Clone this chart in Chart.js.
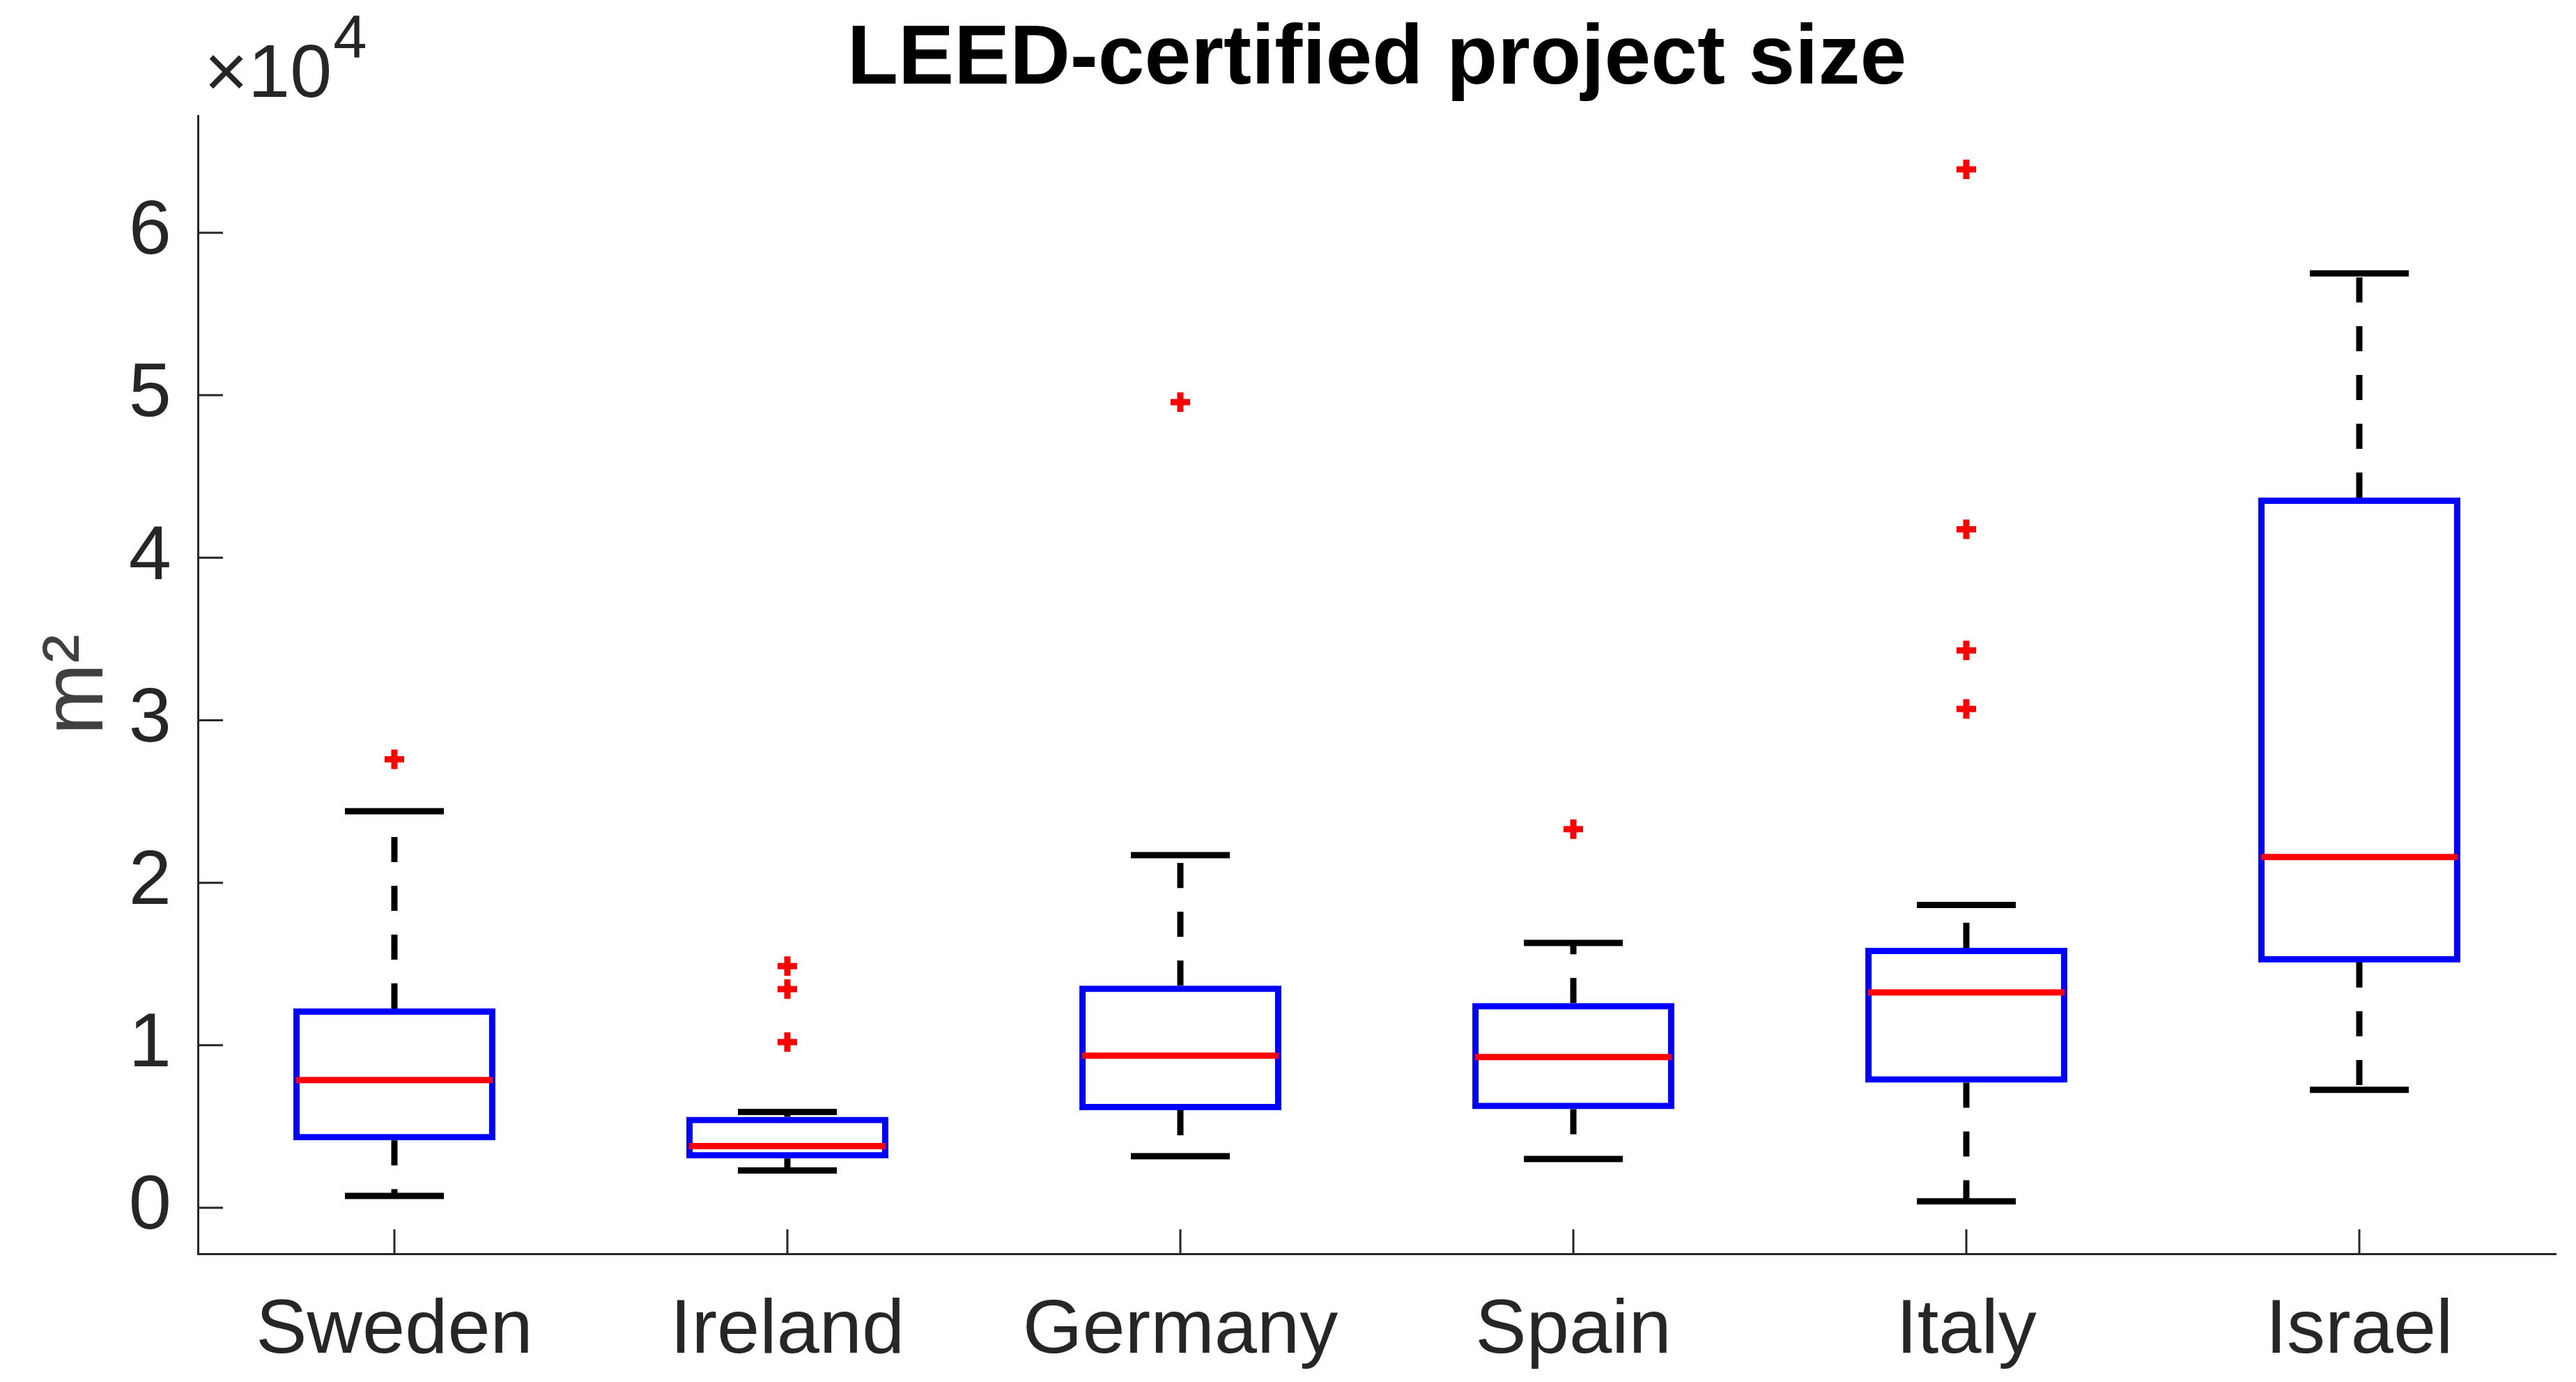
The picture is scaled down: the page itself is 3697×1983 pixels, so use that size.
<!DOCTYPE html>
<html>
<head>
<meta charset="utf-8">
<title>LEED-certified project size</title>
<script src="https://cdn.jsdelivr.net/npm/chart.js@4"></script>
<style>
    html, body { margin: 0; padding: 0; background: #ffffff; overflow: hidden; }
    #wrap { width: 3697px; height: 1983px; position: relative; }
    canvas { display: block; }
</style>
</head>
<body>
<div id="wrap"><canvas id="boxChart"></canvas></div>
<script>
// Box plot data (m2)
const countries = ['Sweden', 'Ireland', 'Germany', 'Spain', 'Italy', 'Israel'];
const lowerWhisker = [730, 2300, 3170, 3000, 400, 7260];
const quartile1 = [4150, 3030, 6000, 6070, 7700, 15100];
const medians = [7860, 3800, 9360, 9270, 13250, 21580];
const quartile3 = [12260, 5600, 13670, 12600, 16000, 43700];
const upperWhisker = [24400, 5900, 21700, 16300, 18630, 57500];
const outliers = [
    [27600],
    [14870, 13460, 10200],
    [49570],
    [23300],
    [63900, 41750, 34300, 30700],
    []
];
const yTicks = [0, 10000, 20000, 30000, 40000, 50000, 60000];

const FONT = "'Liberation Sans', Arial, Helvetica, sans-serif";
const AXIS_COLOR = '#262626';
const LINE_W = 9;

// whisker segments: box edge -> cap, broken by nulls
const whiskerData = [];
countries.forEach((c, i) => {
    whiskerData.push({ x: c, y: quartile3[i] }, { x: c, y: upperWhisker[i] }, { x: c, y: null });
    whiskerData.push({ x: c, y: quartile1[i] }, { x: c, y: lowerWhisker[i] }, { x: c, y: null });
});

const capData = [];
countries.forEach((c, i) => {
    capData.push({ x: c, y: upperWhisker[i] }, { x: c, y: lowerWhisker[i] });
});

const outlierData = [];
countries.forEach((c, i) => {
    outliers[i].forEach(v => outlierData.push({ x: c, y: v }));
});

// inward ticks + the x10^4 exponent label, like the matlab axes
const matlabAxes = {
    id: 'matlabAxes',
    afterDraw(chart) {
        const ctx = chart.ctx;
        const xs = chart.scales.x;
        const ys = chart.scales.y;
        const area = chart.chartArea;
        ctx.save();
        ctx.strokeStyle = AXIS_COLOR;
        ctx.lineWidth = 3;
        ctx.beginPath();
        ys.ticks.forEach(t => {
            const py = ys.getPixelForValue(t.value);
            ctx.moveTo(area.left, py);
            ctx.lineTo(area.left + 36, py);
        });
        xs.ticks.forEach((t, i) => {
            const px = xs.getPixelForTick(i);
            ctx.moveTo(px, area.bottom);
            ctx.lineTo(px, area.bottom - 35);
        });
        ctx.stroke();

        ctx.fillStyle = AXIS_COLOR;
        ctx.textAlign = 'left';
        ctx.textBaseline = 'alphabetic';
        ctx.font = '108px ' + FONT;
        ctx.fillText('\u00d710', 293, 139);
        const w = ctx.measureText('\u00d710').width;
        ctx.font = '87px ' + FONT;
        ctx.fillText('4', 293 + w + 2, 83);
        ctx.restore();
    }
};

const ctx = document.getElementById('boxChart').getContext('2d');
new Chart(ctx, {
    data: {
        labels: countries,
        datasets: [
            {
                type: 'line',
                label: 'Outliers',
                data: outlierData,
                showLine: false,
                pointStyle: 'cross',
                pointRadius: 14,
                pointBorderWidth: 9,
                borderColor: '#ff0000',
                backgroundColor: '#ff0000',
                clip: false
            },
            {
                type: 'line',
                label: 'Median',
                data: medians,
                showLine: false,
                pointStyle: 'line',
                pointRadius: 141,
                pointBorderWidth: LINE_W,
                borderColor: '#ff0000',
                backgroundColor: '#ff0000'
            },
            {
                type: 'line',
                label: 'Caps',
                data: capData,
                showLine: false,
                pointStyle: 'line',
                pointRadius: 71,
                pointBorderWidth: LINE_W,
                borderColor: '#000000',
                backgroundColor: '#000000'
            },
            {
                type: 'line',
                label: 'Whiskers',
                data: whiskerData,
                spanGaps: false,
                borderColor: '#000000',
                borderWidth: LINE_W,
                borderDash: [36, 34],
                borderCapStyle: 'butt',
                pointRadius: 0,
                fill: false
            },
            {
                type: 'bar',
                label: 'IQR',
                data: countries.map((c, i) => [quartile1[i], quartile3[i]]),
                backgroundColor: 'rgba(0,0,0,0)',
                borderColor: '#0000ff',
                borderWidth: LINE_W,
                borderSkipped: false,
                barPercentage: 0.514,
                categoryPercentage: 1.0
            }
        ]
    },
    options: {
        responsive: true,
        maintainAspectRatio: false,
        devicePixelRatio: 1,
        animation: false,
        events: [],
        layout: { autoPadding: false, padding: { left: 0, right: 29, top: 0, bottom: 0 } },
        plugins: {
            legend: { display: false },
            tooltip: { enabled: false },
            title: {
                display: true,
                text: 'LEED-certified project size',
                color: '#000000',
                fullSize: false,
                font: { family: FONT, size: 120, weight: 'bold' },
                padding: { top: 15, bottom: 7 }
            }
        },
        scales: {
            x: {
                type: 'category',
                offset: true,
                grid: { display: false, drawTicks: false },
                border: { display: true, color: AXIS_COLOR, width: 3 },
                ticks: {
                    color: AXIS_COLOR,
                    padding: 46,
                    maxRotation: 0,
                    font: { family: FONT, size: 110 }
                },
                afterFit(scale) { scale.height = 184; }
            },
            y: {
                type: 'linear',
                min: -2830,
                max: 67200,
                grid: { display: false, drawTicks: false },
                border: { display: true, color: AXIS_COLOR, width: 3 },
                afterBuildTicks(scale) {
                    scale.ticks = yTicks.map(v => ({ value: v }));
                },
                ticks: {
                    color: AXIS_COLOR,
                    padding: 38,
                    font: { family: FONT, size: 110 },
                    callback: v => String(v / 10000)
                },
                title: {
                    display: true,
                    text: 'm\u00b2',
                    color: '#404040',
                    font: { family: FONT, size: 124 },
                    padding: { top: 38, bottom: 0 }
                },
                afterFit(scale) { scale.width = 284; }
            }
        }
    },
    plugins: [matlabAxes]
});
</script>
</body>
</html>
